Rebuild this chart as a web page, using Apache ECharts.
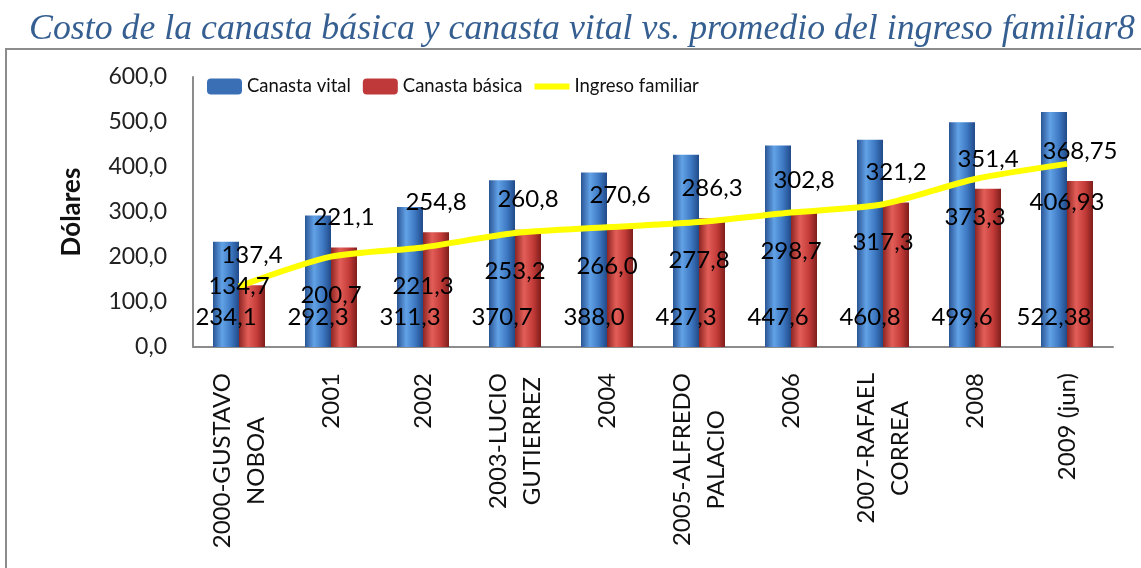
<!DOCTYPE html>
<html>
<head>
<meta charset="utf-8">
<script src="https://cdn.jsdelivr.net/npm/echarts@6/dist/echarts.min.js"></script>
<style>
  html, body { margin: 0; padding: 0; background: #fff; }
  #chart { width: 1141px; height: 568px; }
</style>
</head>
<body>
<div id="chart"></div>
<script>
// categories and values
var years = ['2000-GUSTAVO\nNOBOA', '2001', '2002', '2003-LUCIO\nGUTIERREZ', '2004',
  '2005-ALFREDO\nPALACIO', '2006', '2007-RAFAEL\nCORREA', '2008', '2009 (jun)'];
var canastaVital = [234.1, 292.3, 311.3, 370.7, 388.0, 427.3, 447.6, 460.8, 499.6, 522.38];
var canastaBasica = [137.4, 221.1, 254.8, 260.8, 270.6, 286.3, 302.8, 321.2, 351.4, 368.75];
var ingresoFamiliar = [134.7, 200.7, 221.3, 253.2, 266.0, 277.8, 298.7, 317.3, 373.3, 406.93];
var yTicks = [0, 100, 200, 300, 400, 500, 600];

var font = 'Lato, "Noto Sans", sans-serif';
var xFontSize = 24;

function fmt(v) {
  var s = (Math.round(v * 100) % 10 !== 0) ? v.toFixed(2) : v.toFixed(1);
  return s.replace('.', ',');
}

// pad the shorter line of a two-line x label on both sides so it sits centred
// (the padding only shifts the text when the token has a drawn background)
var measure = document.createElement('canvas').getContext('2d');
measure.font = xFontSize + 'px Lato';
var xRich = {};
years.forEach(function (y, i) {
  var lines = y.split('\n');
  var ws = lines.map(function (l) { return measure.measureText(l).width; });
  var w = Math.max.apply(null, ws);
  ws.forEach(function (lw, j) {
    var pad = Math.round((w - lw) / 2);
    xRich['l' + i + '_' + j] = {
      padding: [0, pad, 0, pad],
      backgroundColor: '#ffffff',
      fontFamily: font,
      fontSize: xFontSize,
      lineHeight: 34,
      color: '#111'
    };
  });
});

function barGrad(dark, light, mid, edge) {
  return new echarts.graphic.LinearGradient(0, 0, 1, 0, [
    { offset: 0, color: dark },
    { offset: 0.35, color: light },
    { offset: 0.7, color: mid },
    { offset: 1, color: edge }
  ]);
}

var chart = echarts.init(document.getElementById('chart'));
chart.setOption({
  animation: false,
  title: {
    text: 'Costo de la canasta básica y canasta vital vs. promedio del ingreso familiar8',
    left: 24,
    top: 7,
    textStyle: {
      fontFamily: '"Liberation Serif", "DejaVu Serif", serif',
      fontStyle: 'italic',
      fontWeight: 'normal',
      fontSize: 35.8,
      color: '#365F91'
    }
  },
  graphic: [{
    type: 'rect',
    silent: true,
    z: -1,
    shape: { x: 6, y: 49, width: 1200, height: 600 },
    style: { fill: 'none', stroke: '#8c8c8c', lineWidth: 2 }
  }],
  legend: {
    left: 202,
    top: 72,
    itemWidth: 35,
    itemHeight: 16,
    itemGap: 12,
    textStyle: { fontFamily: font, fontSize: 18.5, color: '#111' },
    data: [
      { name: 'Canasta vital', itemStyle: { color: '#3a6fb5' } },
      { name: 'Canasta básica', itemStyle: { color: '#c0393a' } },
      { name: 'Ingreso familiar', icon: 'path://M0,0 L35,0 L35,6 L0,6 Z', itemStyle: { color: '#ffff00' } }
    ]
  },
  grid: { left: 193, right: 28, top: 77, bottom: 221 },
  xAxis: {
    type: 'category',
    data: years,
    axisLine: { lineStyle: { color: '#8c8c8c', width: 2 } },
    axisTick: { show: false },
    axisLabel: {
      rotate: 90,
      margin: 26,
      interval: 0,
      fontFamily: font,
      fontSize: xFontSize,
      lineHeight: 34,
      color: '#111',
      formatter: function (v, i) {
        return v.split('\n').map(function (l, j) { return '{l' + i + '_' + j + '|' + l + '}'; }).join('\n');
      },
      rich: xRich
    }
  },
  yAxis: {
    type: 'value',
    min: yTicks[0],
    max: yTicks[yTicks.length - 1],
    interval: yTicks[1] - yTicks[0],
    name: 'Dólares',
    nameLocation: 'middle',
    nameGap: 108,
    nameTextStyle: { fontFamily: font, fontSize: 26, fontWeight: 'bold', color: '#111' },
    axisLine: { show: true, lineStyle: { color: '#8c8c8c', width: 2 } },
    axisTick: { show: false },
    splitLine: { show: false },
    axisLabel: {
      margin: 26,
      fontFamily: font,
      fontSize: 23,
      color: '#222',
      formatter: function (v) { return fmt(v); }
    }
  },
  series: [
    {
      name: 'Canasta vital',
      type: 'bar',
      data: canastaVital,
      barWidth: 26,
      barGap: '0%',
      itemStyle: { color: barGrad('#2a5596', '#62a2e6', '#3d78c2', '#214a88') },
      label: {
        show: true,
        position: 'insideBottom',
        distance: 18,
        fontFamily: font,
        fontSize: 24,
        color: '#000',
        formatter: function (p) { return fmt(p.value); }
      }
    },
    {
      name: 'Canasta básica',
      type: 'bar',
      data: canastaBasica,
      barWidth: 26,
      barGap: '0%',
      itemStyle: { color: barGrad('#8e2522', '#e35e58', '#c33b38', '#7e1e1c') },
      label: {
        show: true,
        position: 'top',
        distance: 18,
        fontFamily: font,
        fontSize: 24,
        color: '#000',
        formatter: function (p) { return fmt(p.value); }
      }
    },
    {
      name: 'Ingreso familiar',
      type: 'line',
      data: ingresoFamiliar.map(function (v, i) {
        return i === 0 ? { value: v, label: { position: 'inside' } } : v;
      }),
      smooth: 0.25,
      symbol: 'circle',
      symbolSize: 1,
      z: 5,
      itemStyle: { color: '#ffff00' },
      lineStyle: { color: '#ffff00', width: 6 },
      label: {
        show: true,
        position: 'bottom',
        distance: 26,
        fontFamily: font,
        fontSize: 24,
        color: '#000',
        formatter: function (p) { return fmt(p.value); }
      }
    }
  ]
});
</script>
</body>
</html>
